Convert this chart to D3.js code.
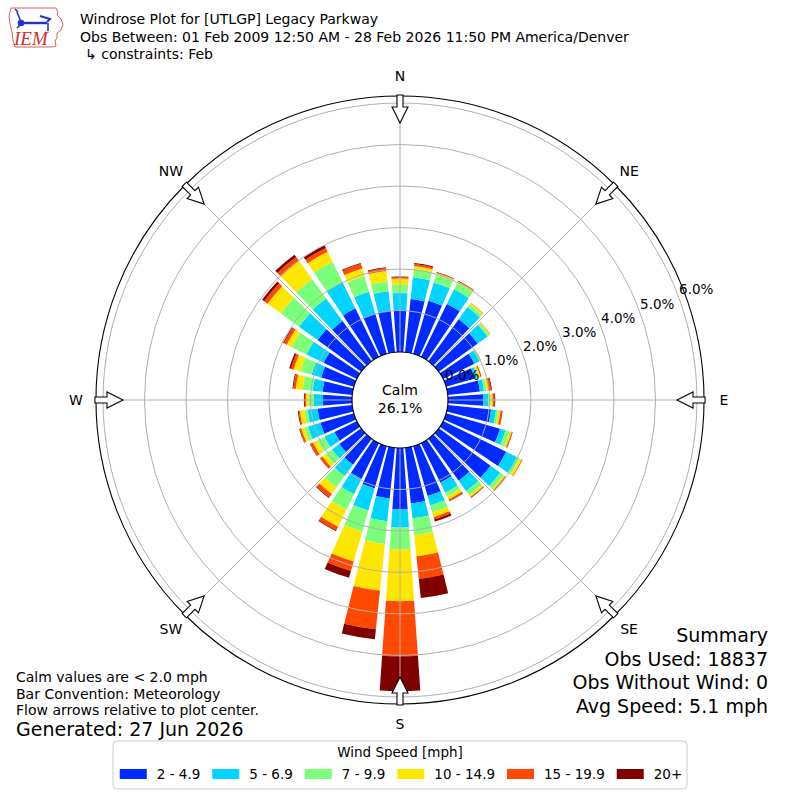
<!DOCTYPE html>
<html><head><meta charset="utf-8">
<script src="https://cdn.jsdelivr.net/npm/d3@7"></script>
<style>body{margin:0;background:#fff} svg{font-family:"DejaVu Sans",sans-serif}</style>
</head><body><svg id="c" width="800" height="800"></svg>
<script>
// ---------------- data (percent of observations) ----------------
const directions = d3.range(0, 360, 10);
const speedBins = ["2 - 4.9", "5 - 6.9", "7 - 9.9", "10 - 14.9", "15 - 19.9", "20+"];
const binColors = ["#002aff", "#00d4ff", "#7bff7b", "#ffe600", "#ff4800", "#800000"];
const bin2to5 = [1.01,1.29,1.33,1.42,1.25,1.16,0.84,0.72,0.78,0.85,1.05,1.35,1.69,1.54,1.25,1.06,1.25,1.35,
                 1.48,1.23,1.06,0.96,0.77,0.65,0.60,0.84,0.84,0.70,0.72,0.82,0.89,1.30,1.20,1.30,1.01,1.01];
const bin5to7 = [0.41,0.53,0.46,0.39,0.36,0.29,0.14,0.07,0.10,0.12,0.12,0.14,0.29,0.29,0.31,0.27,0.24,0.36,
                 0.44,0.55,0.55,0.41,0.34,0.22,0.27,0.31,0.24,0.22,0.24,0.24,0.46,0.55,0.67,0.70,0.55,0.47];
const bin7to10 = [0.20,0.20,0.19,0.17,0.08,0.06,0.02,0.03,0.06,0.06,0.06,0.10,0.07,0.10,0.12,0.10,0.17,0.41,
                  0.52,0.55,0.53,0.41,0.34,0.19,0.19,0.09,0.08,0.12,0.24,0.28,0.39,0.55,0.58,0.55,0.39,0.24];
const bin10to15 = [0.15,0.07,0.05,0.04,0.04,0.02,0.01,0.04,0.05,0.05,0.05,0.05,0.06,0.04,0.05,0.08,0.12,0.51,
                   1.25,1.13,0.75,0.46,0.19,0.10,0.12,0.08,0.11,0.07,0.17,0.17,0.14,0.39,0.53,0.27,0.19,0.25];
const bin15to20 = [0.03,0.05,0.01,0.01,0.01,0.01,0.01,0.03,0.06,0.04,0.04,0.02,0.02,0.02,0.02,0.04,0.06,0.55,
                   1.33,0.94,0.24,0.10,0.10,0.06,0.07,0.04,0.03,0.03,0.06,0.07,0.08,0.10,0.12,0.10,0.12,0.07];
const bin20plus = [0.02,0.02,0.01,0.01,0.00,0.00,0.00,0.00,0.02,0.02,0.01,0.01,0.00,0.01,0.01,0.01,0.05,0.46,
                   0.84,0.24,0.17,0.02,0.02,0.01,0.01,0.01,0.02,0.02,0.02,0.04,0.02,0.06,0.07,0.07,0.02,0.02];
const ringTicks = [0, 1, 2, 3, 4, 5, 6];
const compassLabels = ["N", "NE", "E", "SE", "S", "SW", "W", "NW"];
const calmPct = "26.1%";
const titleLines = ["Windrose Plot for [UTLGP] Legacy Parkway",
  "Obs Between: 01 Feb 2009 12:50 AM - 28 Feb 2026 11:50 PM America/Denver",
  "\u21b3 constraints: Feb"];
const noteLines = ["Calm values are < 2.0 mph", "Bar Convention: Meteorology", "Flow arrows relative to plot center."];
const generated = "Generated: 27 Jun 2026";
const summaryLines = ["Summary", "Obs Used: 18837", "Obs Without Wind: 0", "Avg Speed: 5.1 mph"];

// ---------------- layout ----------------
const svg = d3.select("#c");
svg.append("rect").attr("width", 800).attr("height", 800).attr("fill", "#fff");
const cx = 400, cy = 400;
const r = d3.scaleLinear().domain([0, 6]).range([48, 297]);
const rOuter = r(6.17);
const toRad = d => d * Math.PI / 180;
const g = svg.append("g").attr("transform", `translate(${cx},${cy})`);

const bins = [bin2to5, bin5to7, bin7to10, bin10to15, bin15to20, bin20plus];
const keys = speedBins;
const table = directions.map((d, i) => {
  const row = { dir: d };
  keys.forEach((k, j) => row[k] = bins[j][i]);
  return row;
});
const series = d3.stack().keys(keys)(table);
const arc = d3.arc();
const half = 4; // bar half-opening in degrees

series.forEach((s, j) => {
  g.append("g").selectAll("path").data(s).join("path")
    .attr("d", d => arc({
      innerRadius: r(d[0]), outerRadius: r(d[1]),
      startAngle: toRad(d.data.dir - half), endAngle: toRad(d.data.dir + half)
    }))
    .attr("fill", binColors[j]);
});

// grid rings and spokes (drawn over bars)
const grid = g.append("g").attr("fill", "none").attr("stroke", "#b0b0b0").attr("stroke-width", 1);
grid.selectAll("circle").data(ringTicks.slice(1)).join("circle").attr("r", d => r(d));
grid.selectAll("line").data(d3.range(0, 360, 45)).join("line")
  .attr("x1", 0).attr("y1", 0)
  .attr("x2", d => rOuter * Math.sin(toRad(d)))
  .attr("y2", d => -rOuter * Math.cos(toRad(d)));

// outer frame
g.append("circle").attr("r", rOuter).attr("fill", "none").attr("stroke", "#000").attr("stroke-width", 1.1);

// calm circle
g.append("circle").attr("r", r(0)).attr("fill", "#fff").attr("stroke", "#000").attr("stroke-width", 1.1);
g.append("text").attr("x", 0).attr("y", -5).attr("text-anchor", "middle").attr("font-size", 14).text("Calm");
g.append("text").attr("x", 0).attr("y", 13).attr("text-anchor", "middle").attr("font-size", 14).text(calmPct);

// ring labels
const labAng = toRad(70);
g.selectAll("text.rl").data(ringTicks).join("text").attr("class", "rl")
  .attr("x", d => r(d) * Math.sin(labAng))
  .attr("y", d => -r(d) * Math.cos(labAng) - 4)
  .attr("font-size", 13.5)
  .text(d => d.toFixed(1) + "%");

// compass labels and flow arrows
const compassAngles = d3.range(0, 360, 45);
g.selectAll("text.cl").data(compassAngles).join("text").attr("class", "cl")
  .attr("x", d => 324 * Math.sin(toRad(d)))
  .attr("y", d => -324 * Math.cos(toRad(d)) + 5)
  .attr("text-anchor", "middle").attr("font-size", 14)
  .text((d, i) => compassLabels[i]);

const arrowPts = [[-3, -rOuter - 1], [3, -rOuter - 1], [3, -293], [8, -293], [0, -277], [-8, -293], [-3, -293]];
g.selectAll("path.ar").data(compassAngles).join("path").attr("class", "ar")
  .attr("d", "M" + arrowPts.map(p => p.join(",")).join("L") + "Z")
  .attr("transform", d => `rotate(${d})`)
  .attr("fill", "#fff").attr("stroke", "#000").attr("stroke-width", 1.1);

// titles
svg.selectAll("text.tt").data(titleLines).join("text").attr("class", "tt")
  .attr("x", (d, i) => i === 2 ? 85 : 80).attr("y", (d, i) => 24 + i * 17.5)
  .attr("font-size", 14).text(d => d);

// notes
svg.selectAll("text.nt").data(noteLines).join("text").attr("class", "nt")
  .attr("x", 16).attr("y", (d, i) => 682 + i * 16.5).attr("font-size", 14).text(d => d);
svg.append("text").attr("x", 16).attr("y", 736).attr("font-size", 19).text(generated);

// summary
svg.selectAll("text.sm").data(summaryLines).join("text").attr("class", "sm")
  .attr("x", 768).attr("y", (d, i) => 642 + i * 23.5).attr("text-anchor", "end")
  .attr("font-size", 19).text(d => d);

// legend
const lg = svg.append("g");
lg.append("rect").attr("x", 113).attr("y", 741).attr("width", 574).attr("height", 48)
  .attr("rx", 4).attr("fill", "#fff").attr("stroke", "#cccccc");
lg.append("text").attr("x", 400).attr("y", 757).attr("text-anchor", "middle").attr("font-size", 13.5).text("Wind Speed [mph]");
const items = lg.append("g");
let xpos = 0;
speedBins.forEach((lab, j) => {
  items.append("rect").attr("x", xpos).attr("y", 769).attr("width", 27).attr("height", 10).attr("fill", binColors[j]);
  const t = items.append("text").attr("x", xpos + 37).attr("y", 779).attr("font-size", 13.5).text(lab);
  xpos += 37 + t.node().getComputedTextLength() + 12;
});
const totalW = xpos - 12;
items.attr("transform", `translate(${401 - totalW / 2},0)`);

// IEM logo
const logo = svg.append("g");
logo.append("path")
  .attr("d", "M11,8 L56,8 L58,12 L57,15 L61,19 L63,25 L61,30 L57,33 L57,38 L55,41 L56,46 L52,47 L15,47 L13,40 L12,32 L10,24 L9,16 Z")
  .attr("fill", "none").attr("stroke", "#d94a4a").attr("stroke-width", 0.9);
const lb = logo.append("g").attr("stroke", "#2233cc").attr("fill", "none").attr("stroke-width", 1.6);
lb.append("path").attr("d", "M17,12 L21,22");
lb.append("path").attr("d", "M21,23 L47,23").attr("stroke-width", 2.4);
lb.append("path").attr("d", "M40,16 L50,19 L47,22").attr("stroke-width", 2);
lb.append("path").attr("d", "M48,23 L48,31");
lb.append("circle").attr("cx", 21).attr("cy", 23).attr("r", 2.5).attr("fill", "#2233cc");
lb.append("path").attr("d", "M17,28 L21,24 M18,12 L15,9");
logo.append("text").attr("x", 14).attr("y", 45).attr("font-family", "Liberation Serif")
  .attr("font-style", "italic").attr("font-size", 19).attr("fill", "#d03030").text("IEM");
</script></body></html>
